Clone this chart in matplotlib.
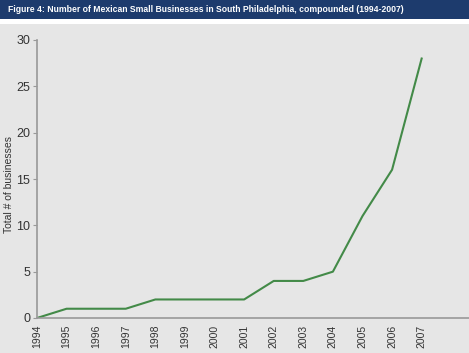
import matplotlib
matplotlib.use("Agg")
import matplotlib.pyplot as plt
from matplotlib import font_manager
from matplotlib.patches import Rectangle

years = [1994, 1995, 1996, 1997, 1998, 1999, 2000, 2001, 2002, 2003, 2004, 2005, 2006, 2007]
businesses = [0, 1, 1, 1, 2, 2, 2, 2, 4, 4, 5, 11, 16, 28]
yticks = [0, 5, 10, 15, 20, 25, 30]
title = "Figure 4: Number of Mexican Small Businesses in South Philadelphia, compounded (1994-2007)"

plt.rcParams['font.family'] = ['Liberation Sans', 'DejaVu Sans']

W, H = 469, 353
fig = plt.figure(figsize=(W / 100, H / 100), dpi=100)
fig.patch.set_facecolor('#e6e6e6')

# title bar + white strip under it
fig.add_artist(Rectangle((0, 1 - 24 / H), 1, 5 / H, transform=fig.transFigure,
                         facecolor='white', edgecolor='none'))
fig.add_artist(Rectangle((0, 1 - 19 / H), 1, 19 / H, transform=fig.transFigure,
                         facecolor='#1d3b6d', edgecolor='none'))

names = {f.name for f in font_manager.fontManager.ttflist}
if 'Liberation Sans Narrow' in names:
    tfam, tsize = ['Liberation Sans Narrow'], 7.6
else:
    tfam, tsize = ['Liberation Sans'], 6.2
fig.text(8 / W, 1 - 10 / H, title, color='white', fontsize=tsize, fontweight='bold',
         family=tfam, va='center', ha='left')

ax = fig.add_axes([37 / W, (H - 318) / H, 1 - 37 / W, (318 - 40) / H])
ax.set_facecolor('#e6e6e6')
ax.plot(years, businesses, color='#438a48', lw=1.5)

ax.set_xlim(1994, 2008.6)
ax.set_ylim(0, 30)
ax.set_xticks(years)
ax.set_xticklabels([str(y) for y in years], rotation=90, fontsize=7.5, color='#333333')
ax.set_yticks(yticks)
ax.set_yticklabels([str(v) for v in yticks], fontsize=9, color='#333333')
ax.tick_params(axis='x', length=0, pad=5)
ax.tick_params(axis='y', length=3, color='#999999', pad=2)

for s in ['top', 'right']:
    ax.spines[s].set_visible(False)
for s in ['left', 'bottom']:
    ax.spines[s].set_color('#999999')
    ax.spines[s].set_linewidth(1.2)

ax.set_ylabel('Total # of businesses', fontsize=7.5, color='#333333')
ax.yaxis.set_label_coords(-23 / (W - 37), 0.48)

fig.savefig('out.png', dpi=100, facecolor=fig.get_facecolor())
